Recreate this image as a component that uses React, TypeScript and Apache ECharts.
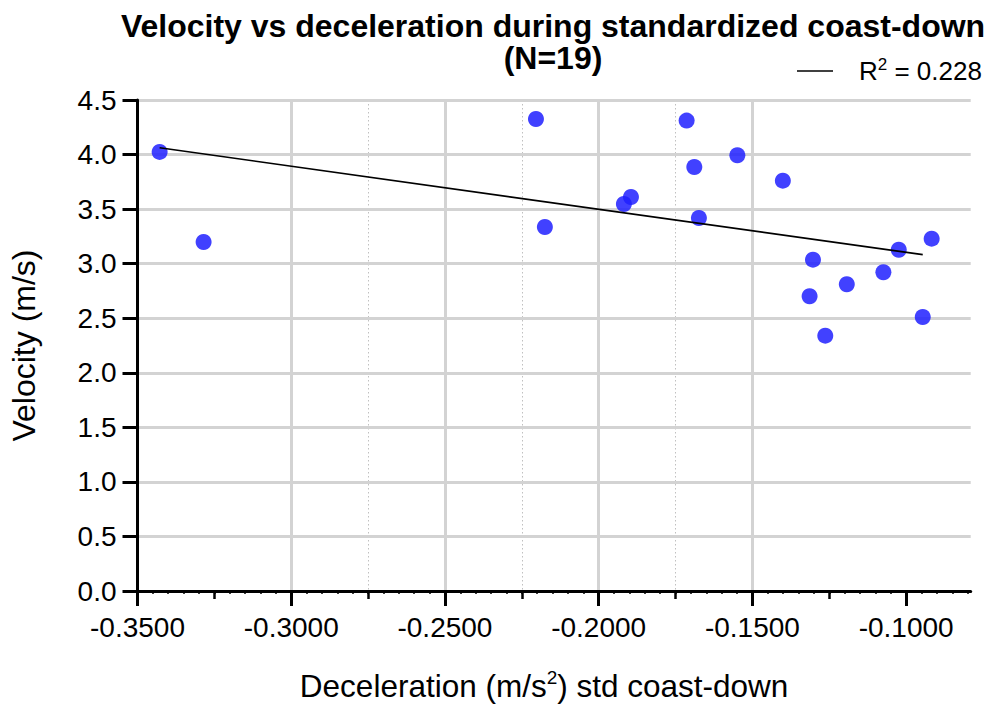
import React, { useEffect, useRef } from "react";
import * as echarts from "echarts";

// Data
const decel = [
  -0.3428, -0.3285, -0.2204, -0.2175, -0.1895, -0.1918, -0.1714, -0.1689, -0.1674, -0.1549,
  -0.1401, -0.1303, -0.1314, -0.1193, -0.1263, -0.1074, -0.1024, -0.0917, -0.0946,
];
const velocity = [
  4.024, 3.199, 4.326, 3.336, 3.611, 3.547, 4.311, 3.886, 3.419, 3.994,
  3.761, 3.037, 2.701, 2.811, 2.340, 2.921, 3.128, 3.229, 2.511,
];
const fitXRange = [-0.3428, -0.0946];
const r2Text = "0.228";
const titleText = "Velocity vs deceleration during standardized coast-down";
const subtitleText = "(N=19)";

const xMajorTicks = [-0.35, -0.3, -0.25, -0.2, -0.15, -0.1];
const xMidTicks = [-0.325, -0.275, -0.225, -0.175, -0.125];
const xMin = -0.35;
const xMax = -0.079;
const yMin = 0;
const yMax = 4.5;
const yStep = 0.5;

const FONT = "'Liberation Sans', Arial, Helvetica, sans-serif";

function linearFit(xs: number[], ys: number[]) {
  const n = xs.length;
  const mx = xs.reduce((a, b) => a + b, 0) / n;
  const my = ys.reduce((a, b) => a + b, 0) / n;
  let sxy = 0;
  let sxx = 0;
  for (let i = 0; i < n; i++) {
    sxy += (xs[i] - mx) * (ys[i] - my);
    sxx += (xs[i] - mx) * (xs[i] - mx);
  }
  const slope = sxy / sxx;
  return { slope, intercept: my - slope * mx };
}

export default function App() {
  const ref = useRef<HTMLDivElement>(null);

  useEffect(() => {
    if (!ref.current) return;
    const chart = echarts.init(ref.current, undefined, { renderer: "svg" });

    const { slope, intercept } = linearFit(decel, velocity);
    const fitData = fitXRange.map((x) => [x, intercept + slope * x]);
    const points = decel.map((x, i) => [x, velocity[i]]);

    const minorTicks: number[] = [];
    for (let k = 0; ; k++) {
      const v = Math.round((xMin + k * 0.005) * 1e6) / 1e6;
      if (v > xMax) break;
      minorTicks.push(v);
    }

    const baseX = {
      type: "value",
      gridIndex: 0,
      position: "bottom",
      min: xMin,
      max: xMax,
      axisLine: { show: false, onZero: false },
      axisLabel: { show: false },
      splitLine: { show: false },
      axisTick: { show: false },
    };

    chart.setOption({
      animation: false,
      backgroundColor: "#ffffff",
      title: {
        text: titleText,
        subtext: subtitleText,
        left: 553,
        top: 11.5,
        textAlign: "center",
        padding: 0,
        itemGap: 0.5,
        textStyle: {
          fontFamily: FONT,
          fontSize: 32,
          fontWeight: "bold",
          color: "#000",
          lineHeight: 28,
        },
        subtextStyle: {
          fontFamily: FONT,
          fontSize: 32,
          fontWeight: "bold",
          color: "#000",
          lineHeight: 28,
        },
      },
      grid: {
        left: 137.5,
        right: 18.3,
        top: 100,
        bottom: 113,
        containLabel: false,
        outerBoundsMode: "none",
      },
      xAxis: [
        {
          ...baseX,
          interval: 0.05,
          z: 1,
          axisLine: { show: true, onZero: false, lineStyle: { color: "#000", width: 3 } },
          axisTick: {
            show: true,
            length: 15,
            customValues: xMajorTicks,
            lineStyle: { color: "#000", width: 3 },
          },
          axisLabel: {
            show: true,
            customValues: xMajorTicks,
            margin: 22,
            fontFamily: FONT,
            fontSize: 28,
            color: "#000",
            formatter: (v: number) => v.toFixed(4),
          },
          splitLine: {
            show: true,
            showMinLine: false,
            showMaxLine: false,
            lineStyle: { color: "#d3d3d3", width: 3 },
          },
          name: "{a|Deceleration (m/s}{s|2}{a|) std coast-down}",
          nameLocation: "middle",
          nameGap: 77,
          nameTextStyle: {
            fontFamily: FONT,
            color: "#000",
            padding: [0, 20, 0, 0],
            rich: {
              a: { fontFamily: FONT, fontSize: 31.5, color: "#000", lineHeight: 36 },
              s: { fontFamily: FONT, fontSize: 19, color: "#000", lineHeight: 22, verticalAlign: "top" },
            },
          },
        },
        {
          ...baseX,
          interval: 0.025,
          z: -1,
          axisTick: {
            show: true,
            length: 8,
            customValues: xMidTicks,
            lineStyle: { color: "#000", width: 2.5 },
          },
          splitLine: {
            show: true,
            showMinLine: false,
            showMaxLine: false,
            lineStyle: { color: "#c0c0c0", width: 1, type: [1.5, 2.5] },
          },
        },
        {
          ...baseX,
          interval: 0.005,
          z: -1,
          axisTick: {
            show: true,
            length: 3,
            customValues: minorTicks,
            lineStyle: { color: "#000", width: 1.5 },
          },
        },
      ],
      yAxis: {
        type: "value",
        min: yMin,
        max: yMax,
        interval: yStep,
        axisLine: { show: true, onZero: false, lineStyle: { color: "#000", width: 3 } },
        axisTick: { show: true, length: 15, lineStyle: { color: "#000", width: 3 } },
        axisLabel: {
          margin: 21,
          fontFamily: FONT,
          fontSize: 28,
          color: "#000",
          formatter: (v: number) => v.toFixed(1),
        },
        splitLine: {
          show: true,
          showMinLine: false,
          lineStyle: { color: "#d3d3d3", width: 3 },
        },
        name: "Velocity (m/s)",
        nameLocation: "middle",
        nameRotate: 90,
        nameGap: 98,
        nameTextStyle: { fontFamily: FONT, fontSize: 32, color: "#000" },
      },
      series: [
        {
          type: "scatter",
          name: "Velocity",
          xAxisIndex: 0,
          data: points,
          symbolSize: 16,
          itemStyle: { color: "#2020ff", opacity: 0.85 },
          z: 3,
        },
        {
          type: "line",
          name: "Linear fit",
          xAxisIndex: 0,
          data: fitData,
          symbol: "none",
          lineStyle: { color: "#000", width: 1.6 },
          z: 4,
        },
      ],
      graphic: [
        {
          type: "line",
          shape: { x1: 797, y1: 71, x2: 833, y2: 71 },
          style: { stroke: "#000", lineWidth: 1.6 },
        },
        {
          type: "text",
          x: 859,
          y: 71,
          style: {
            text: `{r|R}{s|2}{r| = ${r2Text}}`,
            verticalAlign: "middle",
            align: "left",
            fontFamily: FONT,
            rich: {
              r: { fontFamily: FONT, fontSize: 26, fill: "#000", lineHeight: 30 },
              s: { fontFamily: FONT, fontSize: 17, fill: "#000", lineHeight: 18, verticalAlign: "top" },
            },
          },
        },
      ],
    });

    return () => chart.dispose();
  }, []);

  return (
    <div
      ref={ref}
      style={{ position: "fixed", left: 0, top: 0, width: 989, height: 704, background: "#fff" }}
    />
  );
}
